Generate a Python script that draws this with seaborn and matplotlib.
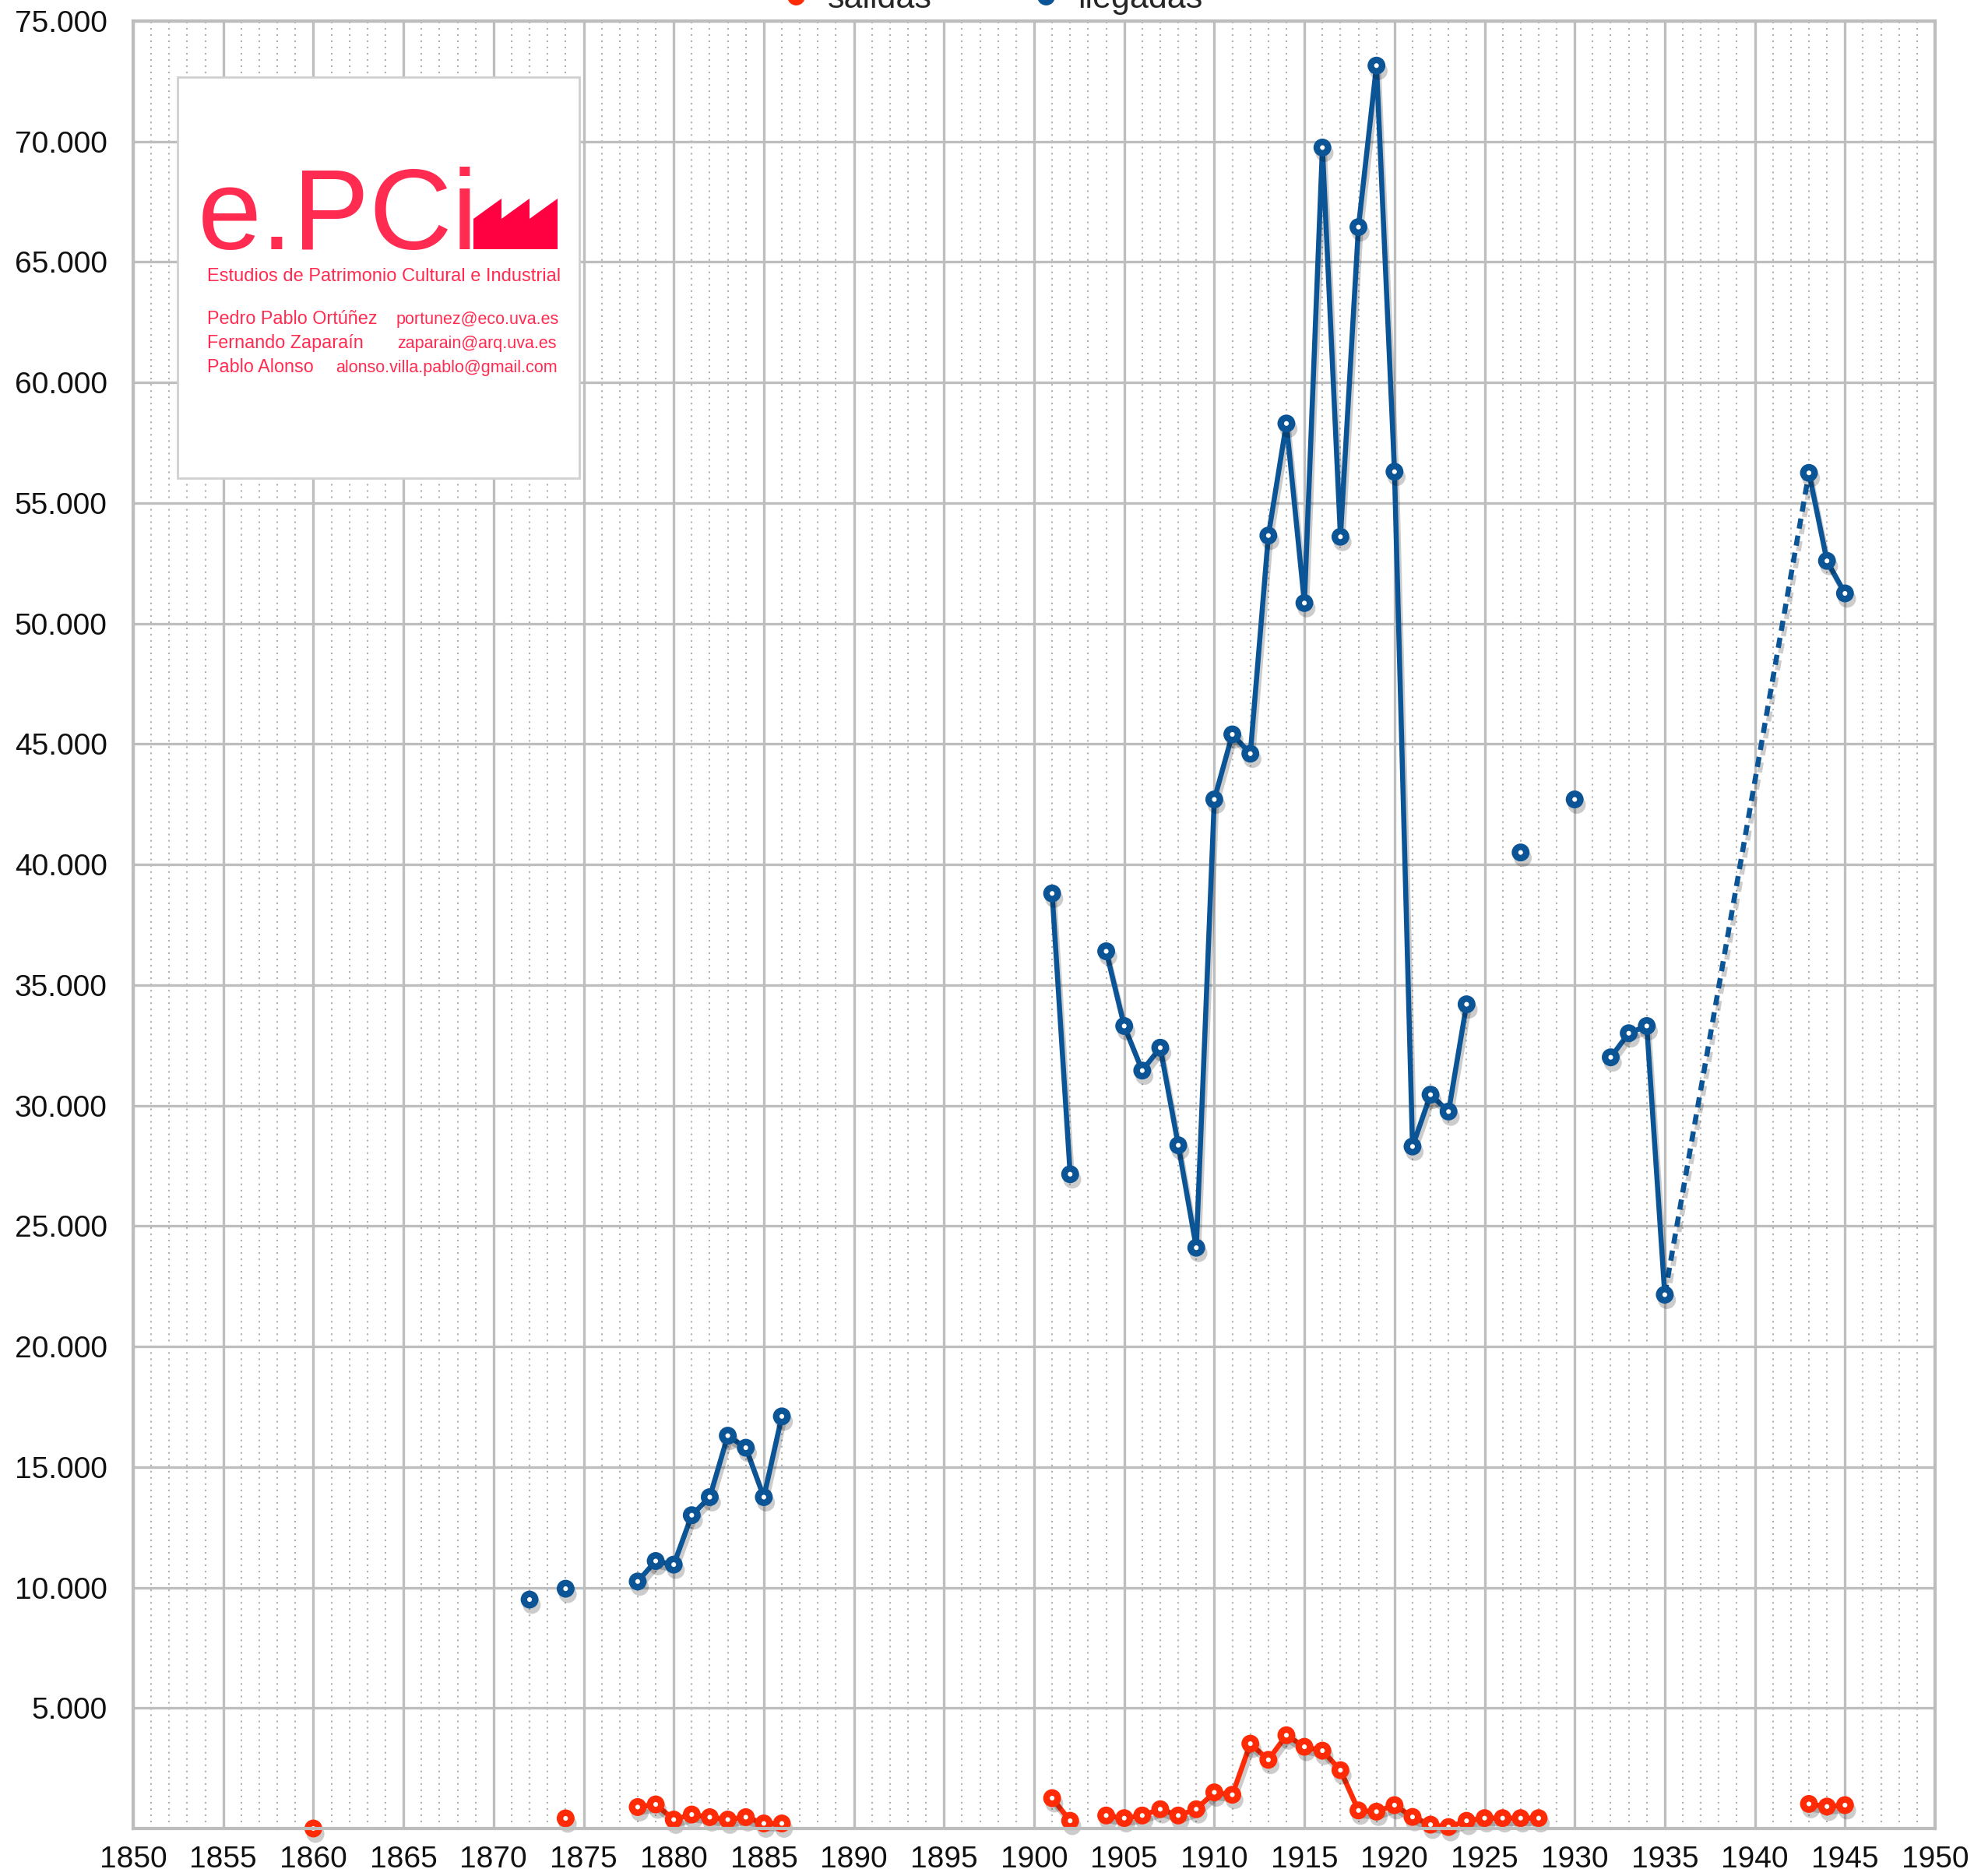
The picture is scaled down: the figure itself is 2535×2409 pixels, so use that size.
import numpy as np
import pandas as pd
import seaborn as sns
import matplotlib.pyplot as plt
import matplotlib.patheffects as pe
from matplotlib.patches import Rectangle, Polygon
from matplotlib.lines import Line2D
from matplotlib.ticker import MultipleLocator, FuncFormatter

# Data
salidas_years = [1860, 1874, 1878, 1879, 1880, 1881, 1882, 1883, 1884, 1885, 1886,
                 1901, 1902, 1904, 1905, 1906, 1907, 1908, 1909, 1910, 1911, 1912,
                 1913, 1914, 1915, 1916, 1917, 1918, 1919, 1920, 1921, 1922, 1923,
                 1924, 1925, 1926, 1927, 1928, 1943, 1944, 1945]
salidas = [0, 420, 890, 1000, 370, 580, 470, 370, 470, 210, 210,
           1260, 320, 540, 430, 540, 800, 540, 800, 1500, 1400, 3520,
           2850, 3870, 3390, 3230, 2420, 750, 700, 970, 480, 160, 60,
           320, 430, 430, 430, 430, 1020, 910, 970]

llegadas_years = [1872, 1874, 1878, 1879, 1880, 1881, 1882, 1883, 1884, 1885, 1886,
                  1901, 1902, 1904, 1905, 1906, 1907, 1908, 1909, 1910, 1911, 1912,
                  1913, 1914, 1915, 1916, 1917, 1918, 1919, 1920, 1921, 1922, 1923,
                  1924, 1927, 1930, 1932, 1933, 1934, 1935, 1943, 1944, 1945]
llegadas = [9500, 9950, 10250, 11100, 10950, 13000, 13750, 16300, 15800, 13750, 17100,
            38800, 27150, 36400, 33300, 31450, 32400, 28350, 24100, 42700, 45400, 44600,
            53650, 58300, 50850, 69750, 53600, 66450, 73150, 56300, 28300, 30450, 29750,
            34200, 40500, 42700, 32000, 33000, 33300, 22150, 56250, 52600, 51250]

# years joined by the dashed estimate
dashed_years = [1935, 1943]

RED = "#FF2B06"
BLUE = "#0B5496"
LOGO = "#FF2B50"


def to_frame(years, values):
    d = pd.DataFrame({"year": years, "value": values})
    d["segment"] = (d["year"].diff() != 1).cumsum()
    return d


df_sal = to_frame(salidas_years, salidas)
df_lle = to_frame(llegadas_years, llegadas)

W, H = 2535, 2409
sns.set_style("white")
plt.rcParams["font.family"] = ["Liberation Sans", "DejaVu Sans"]

fig = plt.figure(figsize=(W / 100, H / 100), dpi=100)
ax = fig.add_axes([171 / W, (H - 2348) / H, (2485 - 171) / W, (2348 - 27) / H])

shadow = [pe.SimpleLineShadow(offset=(2, -5), shadow_color="black", alpha=0.2),
          pe.Normal()]
mk = dict(marker="o", markersize=10.5, markeredgewidth=6, markerfacecolor="white")

# dashed connector between 1935 and 1943
dash = df_lle[df_lle["year"].isin(dashed_years)]
sns.lineplot(data=dash, x="year", y="value", color=BLUE, lw=4.7,
             linestyle=(0, (2.0, 1.4)), ax=ax, legend=False, path_effects=shadow)

for d, c in [(df_sal, RED), (df_lle, BLUE)]:
    sns.lineplot(data=d, x="year", y="value", units="segment", estimator=None,
                 color=c, lw=4.7, markeredgecolor=c, ax=ax, legend=False,
                 clip_on=False, path_effects=shadow, **mk)

ax.set_xlim(1850, 1950)
ax.set_ylim(0, 75000)
ax.xaxis.set_major_locator(MultipleLocator(5))
ax.xaxis.set_minor_locator(MultipleLocator(1))
ax.yaxis.set_major_locator(MultipleLocator(5000))
ax.yaxis.set_major_formatter(FuncFormatter(
    lambda v, p: "" if v == 0 else f"{v:,.0f}".replace(",", ".")))
ax.set_xlabel("")
ax.set_ylabel("")
ax.grid(which="major", color="#BEBEBE", lw=2.4)
ax.grid(which="minor", axis="x", color="#B0B0B0", lw=1.5, linestyle=(0, (1, 2.85)))
ax.set_axisbelow(True)
for s in ax.spines.values():
    s.set_color("#BDBDBD")
    s.set_linewidth(3)
ax.tick_params(which="both", length=0)
ax.tick_params(axis="y", pad=24, labelsize=28, labelcolor="#111111")
ax.tick_params(axis="x", pad=16, labelsize=28, labelcolor="#111111")

# legend, partly cut off at the top edge
handles = [Line2D([], [], color=RED, markeredgecolor=RED, lw=0, **mk),
           Line2D([], [], color=BLUE, markeredgecolor=BLUE, lw=0, **mk)]
fig.legend(handles, ["salidas", "llegadas"], loc="center",
           bbox_to_anchor=(1272 / W, 1 + 1 / H), ncol=2, frameon=False,
           fontsize=31, handlelength=1.0, handletextpad=0.45, columnspacing=2.9)


# logo box (pixel positions converted to figure fractions)
def fx(x):
    return x / W


def fy(y):
    return 1 - y / H


fig.patches.append(Rectangle((fx(228), fy(614)), fx(744) - fx(228), fy(99) - fy(614),
                             transform=fig.transFigure, facecolor="white",
                             edgecolor="#D0D0D0", lw=2, zorder=5))
fig.text(fx(254), fy(320), "e.PCi", color=LOGO, fontsize=106, ha="left",
         va="baseline", zorder=6)
fig.patches.append(Polygon([(fx(608), fy(320)), (fx(608), fy(281)), (fx(644), fy(255)),
                            (fx(644), fy(281)), (fx(680), fy(255)), (fx(680), fy(281)),
                            (fx(716), fy(255)), (fx(716), fy(320))],
                           closed=True, transform=fig.transFigure,
                           facecolor="#FF0040", edgecolor="none", zorder=6))
fig.text(fx(266), fy(361), "Estudios de Patrimonio Cultural e Industrial", color=LOGO,
         fontsize=17, ha="left", va="baseline", zorder=6)
names = ["Pedro Pablo Ortúñez", "Fernando Zaparaín", "Pablo Alonso"]
mails = ["portunez@eco.uva.es", "zaparain@arq.uva.es", "alonso.villa.pablo@gmail.com"]
mail_x = [509, 510, 431]
for i, (n, m) in enumerate(zip(names, mails)):
    y = 416 + i * 31
    fig.text(fx(266), fy(y), n, color=LOGO, fontsize=16.8, ha="left", va="baseline", zorder=6)
    fig.text(fx(mail_x[i]), fy(y), m, color=LOGO, fontsize=15.5, ha="left",
             va="baseline", zorder=6)

fig.savefig("out.png", dpi=100)
